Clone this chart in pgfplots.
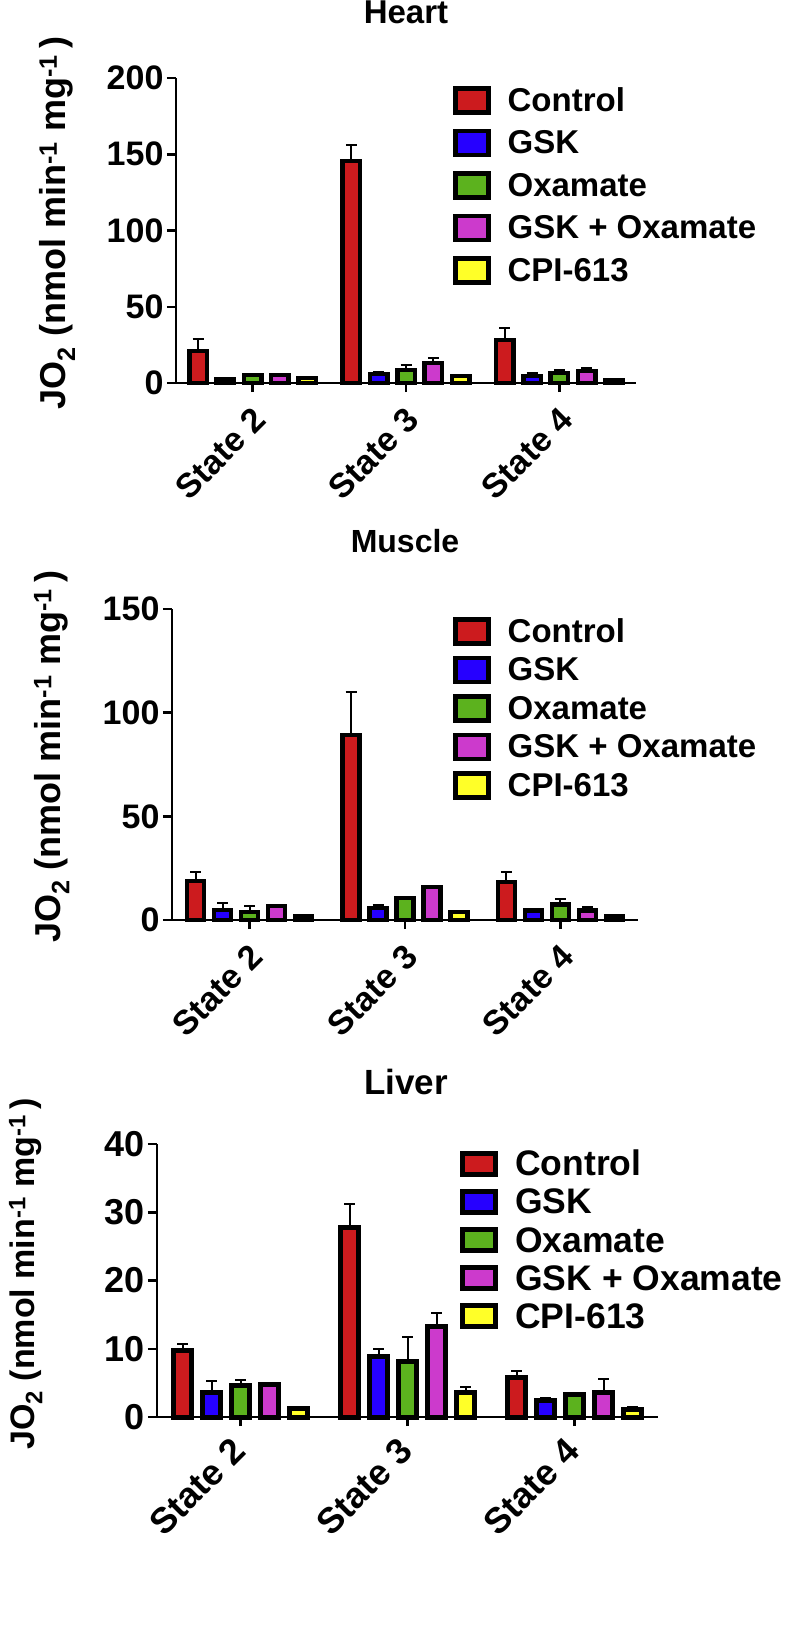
\documentclass[border=0pt]{standalone}
\usepackage{fontspec}
\setmainfont{Liberation Sans}
\usepackage{pgfplots}
\pgfplotsset{compat=1.18}
\definecolor{cCtrl}{RGB}{204,27,30}
\definecolor{cGSK}{RGB}{38,0,255}
\definecolor{cOx}{RGB}{92,178,30}
\definecolor{cGO}{RGB}{204,58,204}
\definecolor{cCPI}{RGB}{255,255,40}
\pgfplotsset{
  organ/.style={
    scale only axis, anchor=south west,
    xmin=-0.5, xmax=2.5, ymin=0,
    axis x line*=bottom, axis y line*=left,
    axis line style={line width=2.5pt,-},
    tick style={line width=2.5pt, black},
    major tick length=9pt, tick align=outside,
    xtick={0,1,2}, xticklabels={State 2,State 3,State 4},
    /pgf/number format/assume math mode=true,
    ylabel={JO\textsubscript{2} (nmol min\textsuperscript{-1} mg\textsuperscript{-1}\,)},
    ylabel style={anchor=center},
    title style={anchor=center},
    legend cell align=left,
    legend style={draw=none, fill=none, anchor=north west, inner sep=0pt, column sep=17pt, nodes={inner sep=0pt}},
    error bars/error bar style={line width=2pt, black},
    error bars/error mark options={rotate=90, mark size=5.5pt, line width=2pt, black},
    clip=false,
  },
}
\begin{document}
\begin{tikzpicture}
% ---------------- Heart ----------------
\begin{axis}[organ,
  at={(176pt,-383pt)}, width=460pt, height=305pt,
  ymax=200, ytick={0,50,100,150,200},
  font=\bfseries\fontsize{34}{40}\selectfont,
  xticklabel style={rotate=45, anchor=north east, xshift=-7pt, yshift=-5pt},
  ybar=9.8pt, bar width=17.5pt,
  title=Heart, title style={at={(axis description cs:0.5,1.197)}, font=\bfseries\fontsize{33}{39}\selectfont},
  ylabel style={at={(axis description cs:-0.258,0.525)}, font=\bfseries\fontsize{36}{42}\selectfont},
  legend image code/.code={\draw[#1] (0pt,-12pt) rectangle (33pt,12pt);},
  legend style={at={(axis description cs:0.602,0.974)}, row sep=14pt, font=\bfseries\fontsize{33}{39}\selectfont},
  every axis plot/.append style={draw=black, line width=4.5pt},
]
\addplot[fill=cCtrl, error bars/.cd, y dir=plus, y explicit] coordinates {(0,21) +- (0,8) (1,145.5) +- (0,10.5) (2,28.2) +- (0,8)};
\addplot[fill=cGSK, error bars/.cd, y dir=plus, y explicit] coordinates {(0,2.2) +- (0,0.6) (1,6) +- (0,1.5) (2,4.6) +- (0,2)};
\addplot[fill=cOx, error bars/.cd, y dir=plus, y explicit] coordinates {(0,5.2) +- (0,0.4) (1,8.5) +- (0,3) (2,6.5) +- (0,2)};
\addplot[fill=cGO, error bars/.cd, y dir=plus, y explicit] coordinates {(0,5.2) +- (0,0.3) (1,13.1) +- (0,3) (2,7.9) +- (0,2)};
\addplot[fill=cCPI, error bars/.cd, y dir=plus, y explicit] coordinates {(0,3.3) +- (0,0.2) (1,4.6) +- (0,0.3) (2,2) +- (0,0.2)};
\legend{Control, GSK, Oxamate, GSK + Oxamate, CPI-613}
\end{axis}
% ---------------- Muscle ----------------
\begin{axis}[organ,
  at={(172pt,-920pt)}, width=466pt, height=311pt,
  ymax=150, ytick={0,50,100,150},
  font=\bfseries\fontsize{34}{40}\selectfont,
  xticklabel style={rotate=45, anchor=north east, xshift=-7pt, yshift=-5pt},
  ybar=10pt, bar width=17pt,
  title=Muscle, title style={at={(axis description cs:0.5,1.199)}, font=\bfseries\fontsize{32}{38}\selectfont},
  ylabel style={at={(axis description cs:-0.258,0.525)}, font=\bfseries\fontsize{36}{42}\selectfont},
  legend image code/.code={\draw[#1] (0pt,-12pt) rectangle (33pt,12pt);},
  legend style={at={(axis description cs:0.603,0.974)}, row sep=10pt, font=\bfseries\fontsize{33}{39}\selectfont},
  every axis plot/.append style={draw=black, line width=4.5pt},
]
\addplot[fill=cCtrl, error bars/.cd, y dir=plus, y explicit] coordinates {(0,18.8) +- (0,4.3) (1,89.2) +- (0,20.8) (2,18.3) +- (0,5)};
\addplot[fill=cGSK, error bars/.cd, y dir=plus, y explicit] coordinates {(0,4.8) +- (0,3.4) (1,5.8) +- (0,1.4) (2,4.6) +- (0,0.3)};
\addplot[fill=cOx, error bars/.cd, y dir=plus, y explicit] coordinates {(0,3.9) +- (0,2.9) (1,10.6) +- (0,0.5) (2,7.4) +- (0,2.5)};
\addplot[fill=cGO, error bars/.cd, y dir=plus, y explicit] coordinates {(0,6.8) +- (0,0.4) (1,15.9) +- (0,0.4) (2,4.6) +- (0,1.5)};
\addplot[fill=cCPI, error bars/.cd, y dir=plus, y explicit] coordinates {(0,1.9) +- (0,0.3) (1,3.9) +- (0,0.3) (2,1.9) +- (0,0.2)};
\legend{Control, GSK, Oxamate, GSK + Oxamate, CPI-613}
\end{axis}
% ---------------- Liver ----------------
\begin{axis}[organ,
  at={(157pt,-1417pt)}, width=501pt, height=273pt,
  ymax=40, ytick={0,10,20,30,40},
  font=\bfseries\fontsize{36}{42}\selectfont,
  xticklabel style={rotate=45, anchor=north east, xshift=-11pt, yshift=4pt},
  ybar=11pt, bar width=18pt,
  title=Liver, title style={at={(axis description cs:0.497,1.205)}, font=\bfseries\fontsize{35}{41}\selectfont},
  ylabel style={at={(axis description cs:-0.262,0.524)}, font=\bfseries\fontsize{34}{40}\selectfont},
  legend image code/.code={\draw[#1] (0pt,-10.5pt) rectangle (33pt,10.5pt);},
  legend style={at={(axis description cs:0.605,0.978)}, row sep=11.75pt, font=\bfseries\fontsize{35.5}{41}\selectfont},
  every axis plot/.append style={draw=black, line width=5pt},
]
\addplot[fill=cCtrl, error bars/.cd, y dir=plus, y explicit] coordinates {(0,9.75) +- (0,1) (1,27.8) +- (0,3.4) (2,5.8) +- (0,0.9)};
\addplot[fill=cGSK, error bars/.cd, y dir=plus, y explicit] coordinates {(0,3.6) +- (0,1.7) (1,8.8) +- (0,1.2) (2,2.4) +- (0,0.4)};
\addplot[fill=cOx, error bars/.cd, y dir=plus, y explicit] coordinates {(0,4.6) +- (0,0.8) (1,8.2) +- (0,3.5) (2,3.3) +- (0,0.2)};
\addplot[fill=cGO, error bars/.cd, y dir=plus, y explicit] coordinates {(0,4.8) +- (0,0.2) (1,13.3) +- (0,1.9) (2,3.6) +- (0,2)};
\addplot[fill=cCPI, error bars/.cd, y dir=plus, y explicit] coordinates {(0,1.3) +- (0,0.2) (1,3.6) +- (0,0.8) (2,1.1) +- (0,0.3)};
\legend{Control, GSK, Oxamate, GSK + Oxamate, CPI-613}
\end{axis}
\pgfresetboundingbox
\path[use as bounding box] (0pt,0pt) rectangle (791pt,-1640pt);
\end{tikzpicture}
\end{document}
